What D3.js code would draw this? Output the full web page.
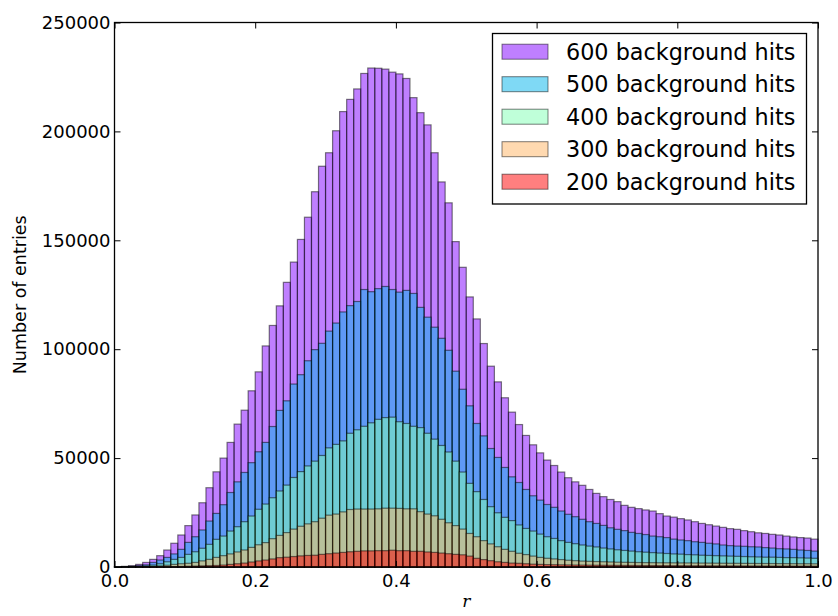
<!doctype html>
<html>
<head>
<meta charset="UTF-8">
<title>background hits histogram</title>
<script src="https://d3js.org/d3.v7.min.js"></script>
<style>
  body { margin: 0; background: #fff; }
  text { font-family: "DejaVu Sans", sans-serif; }
</style>
</head>
<body>
<svg id="chart" width="838" height="616"></svg>
<script>
// bin lower edges: 100 bins of width 0.01 on [0, 1]
var binWidth = 0.01;
var labels = ["600 background hits", "500 background hits", "400 background hits",
              "300 background hits", "200 background hits"];
var colors = ["#8000ff", "#00b4eb", "#80ffb4", "#ffb462", "#ff0000"];
var xTicks = [0.0, 0.2, 0.4, 0.6, 0.8, 1.0];
var yTicks = [0, 50000, 100000, 150000, 200000, 250000];

var hits600 = [100,300,600,1200,2100,3500,5200,7800,10900,14700,
  19000,23900,29500,36400,43700,50000,57200,65600,72000,80900,
  89600,101500,110900,119900,130700,140000,150400,160600,172300,184000,
  190200,200300,209100,214700,219500,226600,229100,229000,228600,227200,
  226400,224300,215500,208600,203000,190200,176800,167200,149400,137600,
  124000,113900,102600,92200,85000,77700,71100,65400,60400,56100,
  52400,49100,46600,43600,41000,39100,37500,35600,33800,32300,
  31000,30000,28300,27400,26800,26200,25700,24500,23400,22900,
  22200,21600,20800,20000,19400,18800,18200,17600,17300,16700,
  16200,15700,15400,15000,14700,14200,13800,13500,13300,12800];
var hits500 = [50,150,300,600,1000,2100,3200,4400,6000,8100,
  11300,13900,17000,21100,24600,28600,34200,39100,43400,47900,
  52900,57200,64500,71900,76300,84000,88300,94700,99800,102700,
  108300,112000,117100,120000,121900,127400,126400,127800,128800,127400,
  126200,127000,125600,119200,114700,110100,105000,99500,89900,81600,
  74000,65900,60200,54400,50300,45700,41400,38800,35600,32700,
  30700,28700,27400,25700,24200,23100,21900,20800,20000,19100,
  18000,17300,16700,15900,15400,14900,14200,13900,13500,12800,
  12400,12100,11600,11300,10900,10600,10100,9800,9600,9500,
  9300,9200,8900,8700,8400,8300,8100,7800,7600,7300];
var hits400 = [20,60,150,300,500,900,1500,2400,3500,4400,
  5800,7000,8600,10400,12700,14200,16500,18500,20800,23400,
  26500,28900,31800,34900,37600,41100,43800,46400,48600,51200,
  54700,56300,57900,61400,63000,64600,66200,67800,68600,68800,
  66700,65900,64600,64000,61400,58700,55800,52800,48600,43600,
  38400,34600,31000,27700,24900,22800,21300,19300,17700,16500,
  15100,13900,13100,12100,11300,10700,10100,9600,9200,8700,
  8300,7900,7600,7300,7000,6800,6600,6400,6200,6000,
  5900,5700,5600,5400,5300,5200,5100,5000,4900,4800,
  4700,4600,4500,4500,4400,4300,4300,4200,4100,4000];
var hits300 = [5,20,50,100,180,300,500,800,1200,1500,
  1700,2100,2800,3500,4400,5200,6000,6900,7800,9000,
  10200,11200,13000,14500,15800,17400,18700,19800,20800,22400,
  23800,24300,25300,26400,26600,26600,26600,26700,27000,27000,
  26900,26700,26700,25400,24300,23500,21900,20300,19000,17400,
  15400,13900,12100,10600,9300,8100,7200,6300,5700,5000,
  4400,4000,3700,3400,3100,2900,2700,2600,2500,2400,
  2300,2200,2150,2100,2050,2000,1980,1940,1920,1900,
  1860,1850,1820,1790,1780,1750,1720,1700,1690,1660,
  1640,1610,1600,1580,1550,1540,1520,1500,1490,1460];
var hits200 = [0,5,10,20,40,60,90,130,180,250,
  330,420,520,600,700,900,1200,1500,1800,2300,
  2800,3200,3700,4300,4500,4800,5100,5300,5400,5800,
  6100,6400,6700,7000,7200,7400,7400,7500,7500,7700,
  7500,7500,7200,7200,6900,6700,6400,6100,5800,5600,
  5000,4000,3400,2900,2400,2100,1800,1700,1500,1300,
  1200,1100,1050,1000,950,900,870,840,810,780,
  760,740,720,700,680,660,650,630,620,600,
  590,570,560,550,540,520,510,500,490,480,
  470,460,450,440,430,420,410,400,395,390];

var series = [hits600, hits500, hits400, hits300, hits200];

var svg = d3.select("#chart");
var pLeft = 114.5, pRight = 818, pTop = 22.5, pBottom = 567;

var x = d3.scaleLinear().domain([0, 1]).range([pLeft, pRight]);
var y = d3.scaleLinear().domain([0, 250000]).range([pBottom, pTop]);

// bars, drawn in order so red ends on top
series.forEach(function(vals, s){
    svg.append("g").selectAll("rect")
        .data(vals)
        .enter().append("rect")
        .attr("x", function(d, i){ return x(i * binWidth); })
        .attr("width", x(binWidth) - x(0))
        .attr("y", function(d){ return y(d); })
        .attr("height", function(d){ return y(0) - y(d); })
        .attr("fill", colors[s])
        .attr("fill-opacity", 0.5)
        .attr("stroke", "#000")
        .attr("stroke-opacity", 0.5)
        .attr("stroke-width", 1.2);
});

// axes, ticks pointing inward on all four sides
var fontSize = "18px";
var xb = svg.append("g").attr("transform", "translate(0," + pBottom + ")")
    .call(d3.axisBottom(x).tickValues(xTicks).tickFormat(d3.format(".1f"))
          .tickSizeInner(-6).tickSizeOuter(0).tickPadding(7));
var xt = svg.append("g").attr("transform", "translate(0," + pTop + ")")
    .call(d3.axisTop(x).tickValues(xTicks).tickFormat("")
          .tickSizeInner(-6).tickSizeOuter(0));
var yl = svg.append("g").attr("transform", "translate(" + pLeft + ",0)")
    .call(d3.axisLeft(y).tickValues(yTicks).tickFormat(d3.format("d"))
          .tickSizeInner(-6).tickSizeOuter(0).tickPadding(4));
var yr = svg.append("g").attr("transform", "translate(" + pRight + ",0)")
    .call(d3.axisRight(y).tickValues(yTicks).tickFormat("")
          .tickSizeInner(-6).tickSizeOuter(0));

[xb, xt, yl, yr].forEach(function(g){
    g.select(".domain").remove();
    g.selectAll(".tick line").attr("stroke", "#000").attr("stroke-width", 1);
    g.selectAll(".tick text").attr("fill", "#000")
        .style("font-family", "DejaVu Sans").style("font-size", fontSize);
});

svg.append("rect")
    .attr("x", pLeft).attr("y", pTop)
    .attr("width", pRight - pLeft).attr("height", pBottom - pTop)
    .attr("fill", "none").attr("stroke", "#000").attr("stroke-width", 1.3);

// axis labels
svg.append("text")
    .attr("transform", "translate(20," + ((pTop + pBottom) / 2) + ") rotate(-90)")
    .attr("text-anchor", "middle")
    .attr("dominant-baseline", "central")
    .style("font-size", "17.5px")
    .text("Number of entries");

svg.append("text")
    .attr("x", (pLeft + pRight) / 2)
    .attr("y", 607)
    .attr("text-anchor", "middle")
    .style("font-family", "DejaVu Serif")
    .style("font-style", "italic")
    .style("font-size", "17px")
    .text("r");

// legend
var lg = svg.append("g");
lg.append("rect")
    .attr("x", 492.5).attr("y", 33.5)
    .attr("width", 314).attr("height", 170.5)
    .attr("fill", "#fff").attr("stroke", "#000").attr("stroke-width", 1.3);

labels.forEach(function(t, k){
    var cy = 51.7 + 32.5 * k;
    lg.append("rect")
        .attr("x", 502).attr("y", cy - 7.5)
        .attr("width", 46).attr("height", 15)
        .attr("fill", colors[k]).attr("fill-opacity", 0.5)
        .attr("stroke", "#000").attr("stroke-opacity", 0.5).attr("stroke-width", 1);
    lg.append("text")
        .attr("x", 566).attr("y", cy)
        .attr("dominant-baseline", "central")
        .style("font-size", "22.3px")
        .text(t);
});
</script>
</body>
</html>
